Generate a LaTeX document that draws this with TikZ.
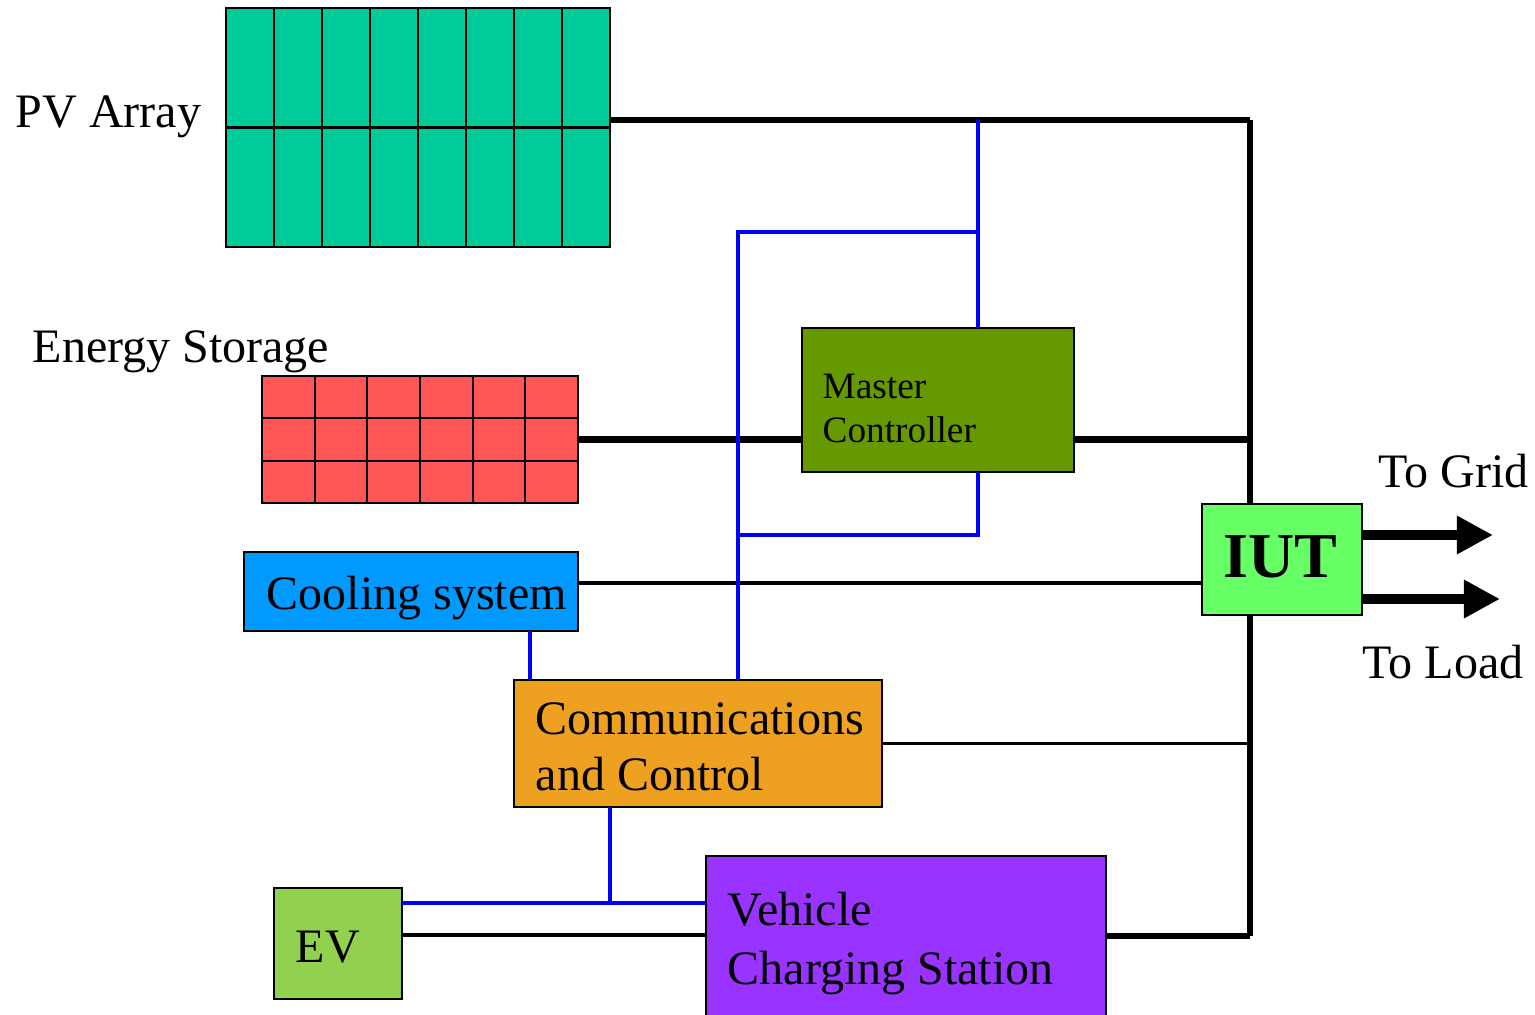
\documentclass[tikz,border=0pt]{standalone}
\usepackage{fontspec}
\setmainfont{Liberation Serif}
\usetikzlibrary{arrows.meta,calc}
\definecolor{pvgreen}{HTML}{00CC99}
\definecolor{esred}{HTML}{FF5555}
\definecolor{coolblue}{HTML}{0099FF}
\definecolor{mcgreen}{HTML}{669900}
\definecolor{iutgreen}{HTML}{66FF66}
\definecolor{commorange}{HTML}{EEA020}
\definecolor{evgreen}{HTML}{92D050}
\definecolor{vcspurple}{HTML}{9933FF}
\definecolor{sigblue}{HTML}{0000FF}
\tikzset{
  blk/.style={draw=black, line width=0.6pt, inner sep=0pt, outer sep=0pt},
  thickbus/.style={draw=black, line width=1.75pt},
  thinbus/.style={draw=black, line width=0.9pt},
  sig/.style={draw=sigblue, line width=0.9pt},
  lbl/.style={anchor=base west, inner sep=0pt, font=\fontsize{13.66}{16}\selectfont},
  smlbl/.style={anchor=base west, inner sep=0pt, font=\fontsize{10.6}{12}\selectfont},
  biglbl/.style={anchor=base west, inner sep=0pt, font=\fontsize{18.2}{20}\selectfont\bfseries},
  outarrow/.style={draw=black, line width=0.1cm, -{Triangle[length=0.36cm,width=0.36cm]}},
}
\begin{document}
\begin{tikzpicture}[x=0.01cm, y=-0.01cm]
\useasboundingbox (0,0) rectangle (1535,1014);

% junction coordinates
\coordinate (j1) at (1250,120);
\coordinate (j5) at (1250,936);
\coordinate (b1) at (978,120);
\coordinate (b2) at (978,232);
\coordinate (b3) at (738,232);
\coordinate (b4) at (738,535);
\coordinate (b5) at (978,535);
\coordinate (yc) at (0,583);
\coordinate (yev) at (0,935);
\coordinate (c1) at (610,903);
\coordinate (xcool) at (530,0);
\coordinate (g1) at (1493,535);
\coordinate (g2) at (1500,599);

% main vertical bus (behind boxes)
\draw[thickbus] (j1) -- (j5);

% boxes
\node[blk, fill=pvgreen, minimum width=3.84cm, minimum height=2.39cm] (pv) at (418,127.5) {};
\node[blk, fill=esred, minimum width=3.16cm, minimum height=1.27cm] (es) at (420,439.5) {};
\node[blk, fill=coolblue, minimum width=3.34cm, minimum height=0.79cm] (cool) at (411,591.5) {};
\node[blk, fill=mcgreen, minimum width=2.72cm, minimum height=1.44cm] (mc) at (938,400) {};
\node[blk, fill=iutgreen, minimum width=1.60cm, minimum height=1.11cm] (iut) at (1282,559.5) {};
\node[blk, fill=commorange, minimum width=3.68cm, minimum height=1.27cm] (comm) at (698,743.5) {};
\node[blk, fill=evgreen, minimum width=1.28cm, minimum height=1.11cm] (ev) at (338,943.5) {};
\node[blk, fill=vcspurple, minimum width=4.00cm, minimum height=1.64cm] (vcs) at (906,938) {};

% PV grid
\foreach \i in {1,...,7} {
  \draw[line width=0.6pt] ($(pv.north west)+(\i*48,0)$) -- ($(pv.south west)+(\i*48,0)$);
}
\draw[line width=0.6pt] (pv.west) -- (pv.east);
% storage grid
\foreach \i in {1,...,5} {
  \draw[line width=0.6pt] ($(es.north west)+(\i*52.67,0)$) -- ($(es.south west)+(\i*52.67,0)$);
}
\draw[line width=0.6pt] ($(es.north west)+(0,42.3)$) -- ($(es.north east)+(0,42.3)$);
\draw[line width=0.6pt] ($(es.north west)+(0,84.7)$) -- ($(es.north east)+(0,84.7)$);

% power connectors
\draw[thickbus] (pv.east |- j1) -- (j1);
\draw[thickbus] (es.east) -- (es.east -| mc.west);
\draw[thickbus] (mc.east |- es.east) -- (es.east -| j1);
\draw[thinbus] (cool.east |- yc) -- (iut.west |- yc);
\draw[thinbus] (comm.east) -- (comm.east -| j1);
\draw[thickbus] (vcs.east |- j5) -- (j5);
\draw[thinbus] (ev.east |- yev) -- (vcs.west |- yev);

% signal connectors
\draw[sig] (b1) -- (mc.north -| b1);
\draw[sig] (b2) -- (b3) -- (comm.north -| b3);
\draw[sig] (mc.south -| b5) -- (b5) -- (b4);
\draw[sig] (cool.south -| xcool) -- (comm.north -| xcool);
\draw[sig] (comm.south -| c1) -- (c1);
\draw[sig] (ev.east |- c1) -- (vcs.west |- c1);

% output arrows
\draw[outarrow] (iut.east |- g1) -- (g1);
\draw[outarrow] (iut.east |- g2) -- (g2);

% labels
\node[lbl] (tpv) at (15,127) {PV Array};
\node[lbl] (tes) at (32,362) {Energy Storage};
\node[lbl] (tcool) at (266,609) {Cooling system};
\node[smlbl] (tmc1) at (822,398) {Master};
\node[smlbl] (tmc2) at (822,442) {Controller};
\node[biglbl] (tiut) at (1223,577) {IUT};
\node[lbl] (tcomm1) at (535,734) {Communications};
\node[lbl] (tcomm2) at (535,790) {and Control};
\node[lbl] (tev) at (295,962) {EV};
\node[lbl] (tvcs1) at (727,925) {Vehicle};
\node[lbl] (tvcs2) at (727,984) {Charging Station};
\node[lbl] (tgrid) at (1378,487) {To Grid};
\node[lbl] (tload) at (1362,678) {To Load};
\end{tikzpicture}
\end{document}
